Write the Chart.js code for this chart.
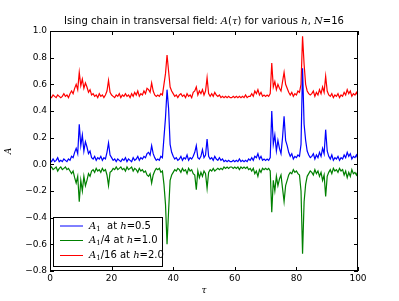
<!DOCTYPE html>
<html>
<head>
<meta charset="utf-8">
<script src="https://cdn.jsdelivr.net/npm/chart.js@4.4.1/dist/chart.umd.min.js"></script>
<style>
  html, body { margin: 0; padding: 0; background: #fff; }
  #wrap { width: 399px; height: 301px; }
</style>
</head>
<body>
<div id="wrap"><canvas id="isingChart" width="399" height="301"></canvas></div>
<script>
// tau runs 0..100 in steps of 0.5 (201 samples per series)
const tauStep = 0.5;

const blueA1 = [
  0.03,0.02,0.04,0.02,0.03,0.05,0.02,0.03,0.02,0.04,
  0.03,0.02,0.04,0.03,0.06,0.05,0.09,0.12,0.08,0.30,
  0.14,0.22,0.10,0.17,0.13,0.08,0.10,0.05,0.04,0.06,
  0.03,0.05,0.04,0.06,0.03,0.05,0.04,0.09,0.16,0.07,
  0.05,0.03,0.04,0.02,0.04,0.03,0.02,0.04,0.03,0.05,
  0.02,0.04,0.03,0.02,0.05,0.03,0.04,0.06,0.03,0.05,
  0.04,0.06,0.05,0.08,0.09,0.07,0.14,0.08,0.05,0.03,
  0.04,0.03,0.06,0.05,0.20,0.35,0.56,0.42,0.15,0.09,
  0.06,0.04,0.05,0.03,0.04,0.06,0.03,0.05,0.04,0.07,
  0.03,0.05,0.04,0.06,0.09,0.14,0.05,0.04,0.06,0.11,
  0.05,0.07,0.19,0.06,0.04,0.05,0.03,0.06,0.04,0.03,
  0.05,0.03,0.04,0.02,0.03,0.02,0.03,0.02,0.02,0.03,
  0.02,0.03,0.02,0.04,0.02,0.03,0.02,0.03,0.02,0.04,
  0.03,0.05,0.03,0.06,0.05,0.08,0.04,0.06,0.03,0.04,
  0.03,0.04,0.03,0.05,0.40,0.15,0.22,0.10,0.18,0.12,
  0.08,0.20,0.36,0.18,0.14,0.09,0.06,0.08,0.04,0.06,
  0.05,0.07,0.06,0.15,0.72,0.30,0.18,0.10,0.07,0.05,
  0.06,0.08,0.04,0.07,0.05,0.09,0.06,0.12,0.08,0.26,
  0.10,0.06,0.04,0.07,0.03,0.05,0.04,0.06,0.03,0.05,
  0.04,0.07,0.05,0.09,0.06,0.08,0.04,0.06,0.05,0.07,
  0.04
];

const greenA1q = [
  -0.03,-0.02,-0.04,-0.03,-0.02,-0.05,-0.03,-0.02,-0.04,-0.03,
  -0.02,-0.04,-0.03,-0.05,-0.07,-0.05,-0.10,-0.14,-0.09,-0.28,
  -0.12,-0.20,-0.09,-0.16,-0.12,-0.07,-0.09,-0.05,-0.04,-0.06,
  -0.03,-0.05,-0.04,-0.06,-0.03,-0.05,-0.04,-0.08,-0.16,-0.06,
  -0.05,-0.03,-0.04,-0.02,-0.04,-0.03,-0.02,-0.04,-0.03,-0.05,
  -0.02,-0.04,-0.03,-0.02,-0.05,-0.03,-0.04,-0.06,-0.03,-0.05,
  -0.04,-0.06,-0.05,-0.08,-0.09,-0.07,-0.14,-0.08,-0.05,-0.03,
  -0.04,-0.03,-0.06,-0.05,-0.15,-0.30,-0.60,-0.35,-0.12,-0.08,
  -0.06,-0.04,-0.05,-0.03,-0.04,-0.06,-0.03,-0.05,-0.04,-0.07,
  -0.03,-0.05,-0.04,-0.07,-0.08,-0.19,-0.05,-0.10,-0.06,-0.09,
  -0.05,-0.07,-0.18,-0.06,-0.04,-0.05,-0.03,-0.05,-0.04,-0.03,
  -0.04,-0.03,-0.04,-0.02,-0.03,-0.02,-0.03,-0.02,-0.02,-0.03,
  -0.02,-0.03,-0.02,-0.04,-0.02,-0.03,-0.02,-0.03,-0.02,-0.04,
  -0.03,-0.05,-0.03,-0.07,-0.05,-0.09,-0.04,-0.06,-0.03,-0.04,
  -0.03,-0.04,-0.03,-0.05,-0.36,-0.12,-0.20,-0.09,-0.16,-0.11,
  -0.08,-0.18,-0.28,-0.16,-0.12,-0.08,-0.06,-0.07,-0.04,-0.06,
  -0.05,-0.07,-0.08,-0.20,-0.67,-0.28,-0.15,-0.09,-0.07,-0.05,
  -0.06,-0.08,-0.04,-0.07,-0.05,-0.09,-0.06,-0.12,-0.08,-0.24,
  -0.09,-0.06,-0.04,-0.07,-0.03,-0.05,-0.04,-0.06,-0.03,-0.05,
  -0.04,-0.08,-0.05,-0.10,-0.06,-0.09,-0.04,-0.07,-0.06,-0.08,
  -0.05
];

const redA1s = [
  0.51,0.50,0.52,0.51,0.50,0.52,0.51,0.50,0.51,0.53,
  0.51,0.52,0.50,0.53,0.55,0.53,0.57,0.60,0.56,0.69,
  0.59,0.64,0.57,0.61,0.58,0.54,0.56,0.52,0.53,0.51,
  0.52,0.50,0.53,0.51,0.52,0.50,0.52,0.55,0.63,0.54,
  0.52,0.51,0.50,0.52,0.51,0.53,0.50,0.52,0.51,0.53,
  0.51,0.52,0.50,0.53,0.51,0.54,0.52,0.55,0.51,0.53,
  0.52,0.55,0.53,0.57,0.56,0.54,0.61,0.55,0.52,0.51,
  0.52,0.51,0.53,0.52,0.60,0.68,0.82,0.70,0.58,0.55,
  0.53,0.51,0.52,0.50,0.52,0.53,0.51,0.52,0.50,0.53,
  0.51,0.52,0.50,0.54,0.55,0.58,0.52,0.55,0.53,0.56,
  0.52,0.55,0.65,0.53,0.51,0.53,0.51,0.54,0.52,0.51,
  0.52,0.50,0.51,0.50,0.51,0.50,0.51,0.50,0.50,0.51,
  0.50,0.51,0.50,0.51,0.50,0.51,0.50,0.52,0.50,0.51,
  0.51,0.53,0.51,0.55,0.53,0.56,0.52,0.54,0.51,0.52,
  0.51,0.52,0.51,0.53,0.76,0.58,0.62,0.56,0.60,0.57,
  0.55,0.62,0.69,0.60,0.57,0.54,0.52,0.54,0.51,0.53,
  0.52,0.55,0.54,0.60,0.96,0.75,0.60,0.55,0.53,0.52,
  0.53,0.55,0.51,0.54,0.52,0.56,0.53,0.58,0.54,0.66,
  0.55,0.52,0.51,0.53,0.50,0.52,0.51,0.53,0.50,0.52,
  0.51,0.54,0.52,0.56,0.53,0.55,0.51,0.53,0.52,0.54,
  0.51
];

const xTicks = [0, 20, 40, 60, 80, 100];
const yTicks = [-0.8, -0.6, -0.4, -0.2, 0.0, 0.2, 0.4, 0.6, 0.8, 1.0];

const tau = blueA1.map((_, i) => i * tauStep);
const toPoints = vals => vals.map((v, i) => ({ x: tau[i], y: v }));

// rich text: [text, style] with style n = plain, i = math italic, s = subscript
const SANS = '"DejaVu Sans", sans-serif';
const SERIF = '"DejaVu Serif", serif';
function partFont(style, size) {
  if (style === 'i') return 'italic ' + size + 'px ' + SERIF;
  if (style === 's') return Math.round(size * 0.7) + 'px ' + SERIF;
  return size + 'px ' + SANS;
}
function richWidth(ctx, parts, size) {
  let w = 0;
  parts.forEach(([t, st]) => { ctx.font = partFont(st, size); w += ctx.measureText(t).width; });
  return w;
}
function drawRich(ctx, parts, x, y, size, align) {
  let cx = align === 'center' ? x - richWidth(ctx, parts, size) / 2 : x;
  ctx.textBaseline = 'middle';
  ctx.textAlign = 'left';
  parts.forEach(([t, st]) => {
    ctx.font = partFont(st, size);
    ctx.fillText(t, cx, st === 's' ? y + size * 0.3 : y);
    cx += ctx.measureText(t).width;
  });
}

const titleParts = [
  ['Ising chain in transversal field: ', 'n'], ['A', 'i'], ['(', 'n'], ['τ', 'i'], [')', 'n'],
  [' for various ', 'n'], ['h', 'i'], [', ', 'n'], ['N', 'i'], ['=16', 'n']
];

const legendItems = [
  { color: '#0000ff', parts: [['A', 'i'], ['1', 's'], ['  at ', 'n'], ['h', 'i'], ['=0.5', 'n']] },
  { color: '#008000', parts: [['A', 'i'], ['1', 's'], ['/4 at ', 'n'], ['h', 'i'], ['=1.0', 'n']] },
  { color: '#ff0000', parts: [['A', 'i'], ['1', 's'], ['/16 at ', 'n'], ['h', 'i'], ['=2.0', 'n']] }
];

// matplotlib-like frame, inward ticks, title, axis labels and legend
const decorPlugin = {
  id: 'decor',
  afterDraw(chart) {
    const { ctx, chartArea: a, scales } = chart;
    ctx.save();
    ctx.strokeStyle = '#000';
    ctx.lineWidth = 1;
    ctx.strokeRect(a.left + 0.5, a.top + 0.5, a.right - a.left - 1, a.bottom - a.top - 1);
    ctx.beginPath();
    xTicks.forEach(v => {
      const px = Math.round(scales.x.getPixelForValue(v)) + 0.5;
      ctx.moveTo(px, a.bottom); ctx.lineTo(px, a.bottom - 4);
      ctx.moveTo(px, a.top); ctx.lineTo(px, a.top + 4);
    });
    yTicks.forEach(v => {
      const py = Math.round(scales.y.getPixelForValue(v)) + 0.5;
      ctx.moveTo(a.left, py); ctx.lineTo(a.left + 4, py);
      ctx.moveTo(a.right, py); ctx.lineTo(a.right - 4, py);
    });
    ctx.stroke();

    ctx.fillStyle = '#000';
    drawRich(ctx, titleParts, (a.left + a.right) / 2, 21, 10, 'center');
    drawRich(ctx, [['τ', 'i']], (a.left + a.right) / 2, 291, 9, 'center');
    ctx.save();
    ctx.translate(9, (a.top + a.bottom) / 2);
    ctx.rotate(-Math.PI / 2);
    drawRich(ctx, [['A', 'i']], 0, 0, 9, 'center');
    ctx.restore();

    // legend box, lower left
    const lx = a.left + 3, ly = 217, lw = 109, lh = 49;
    ctx.fillStyle = '#fff';
    ctx.fillRect(lx, ly, lw, lh);
    ctx.strokeStyle = '#000';
    ctx.strokeRect(lx + 0.5, ly + 0.5, lw, lh);
    const rows = [226, 240.5, 255.5];
    legendItems.forEach((it, i) => {
      ctx.strokeStyle = it.color;
      ctx.beginPath();
      ctx.moveTo(lx + 7, rows[i]); ctx.lineTo(lx + 30, rows[i]);
      ctx.stroke();
      ctx.fillStyle = '#000';
      drawRich(ctx, it.parts, lx + 36, rows[i], 10, 'left');
    });
    ctx.restore();
  }
};

const fmt = v => (Math.abs(v) < 1e-9 ? '0.0' : v.toFixed(1).replace('-', '\u2212'));

new Chart(document.getElementById('isingChart'), {
  type: 'line',
  data: {
    datasets: [
      { label: 'A1 at h=0.5', data: toPoints(blueA1), borderColor: '#0000ff' },
      { label: 'A1/4 at h=1.0', data: toPoints(greenA1q), borderColor: '#008000' },
      { label: 'A1/16 at h=2.0', data: toPoints(redA1s), borderColor: '#ff0000' }
    ].map(d => Object.assign(d, { borderWidth: 1.2, pointRadius: 0, tension: 0, fill: false }))
  },
  options: {
    responsive: false,
    animation: false,
    layout: { padding: { left: 0, right: 41, top: 31, bottom: 0 } },
    plugins: { legend: { display: false }, title: { display: false }, tooltip: { enabled: false } },
    scales: {
      x: {
        type: 'linear', min: 0, max: 100,
        afterBuildTicks: s => { s.ticks = xTicks.map(v => ({ value: v })); },
        afterFit: s => { s.height = 30; },
        ticks: { color: '#000', font: { family: 'DejaVu Sans', size: 9 }, padding: 2, maxRotation: 0,
                 callback: v => String(v) },
        grid: { display: false, drawTicks: false },
        border: { display: false }
      },
      y: {
        min: -0.8, max: 1.0,
        afterBuildTicks: s => { s.ticks = yTicks.map(v => ({ value: v })); },
        afterFit: s => { s.width = 50; },
        ticks: { color: '#000', font: { family: 'DejaVu Sans', size: 9 }, padding: 3, callback: fmt },
        grid: { display: false, drawTicks: false },
        border: { display: false }
      }
    }
  },
  plugins: [decorPlugin]
});
</script>
</body>
</html>
